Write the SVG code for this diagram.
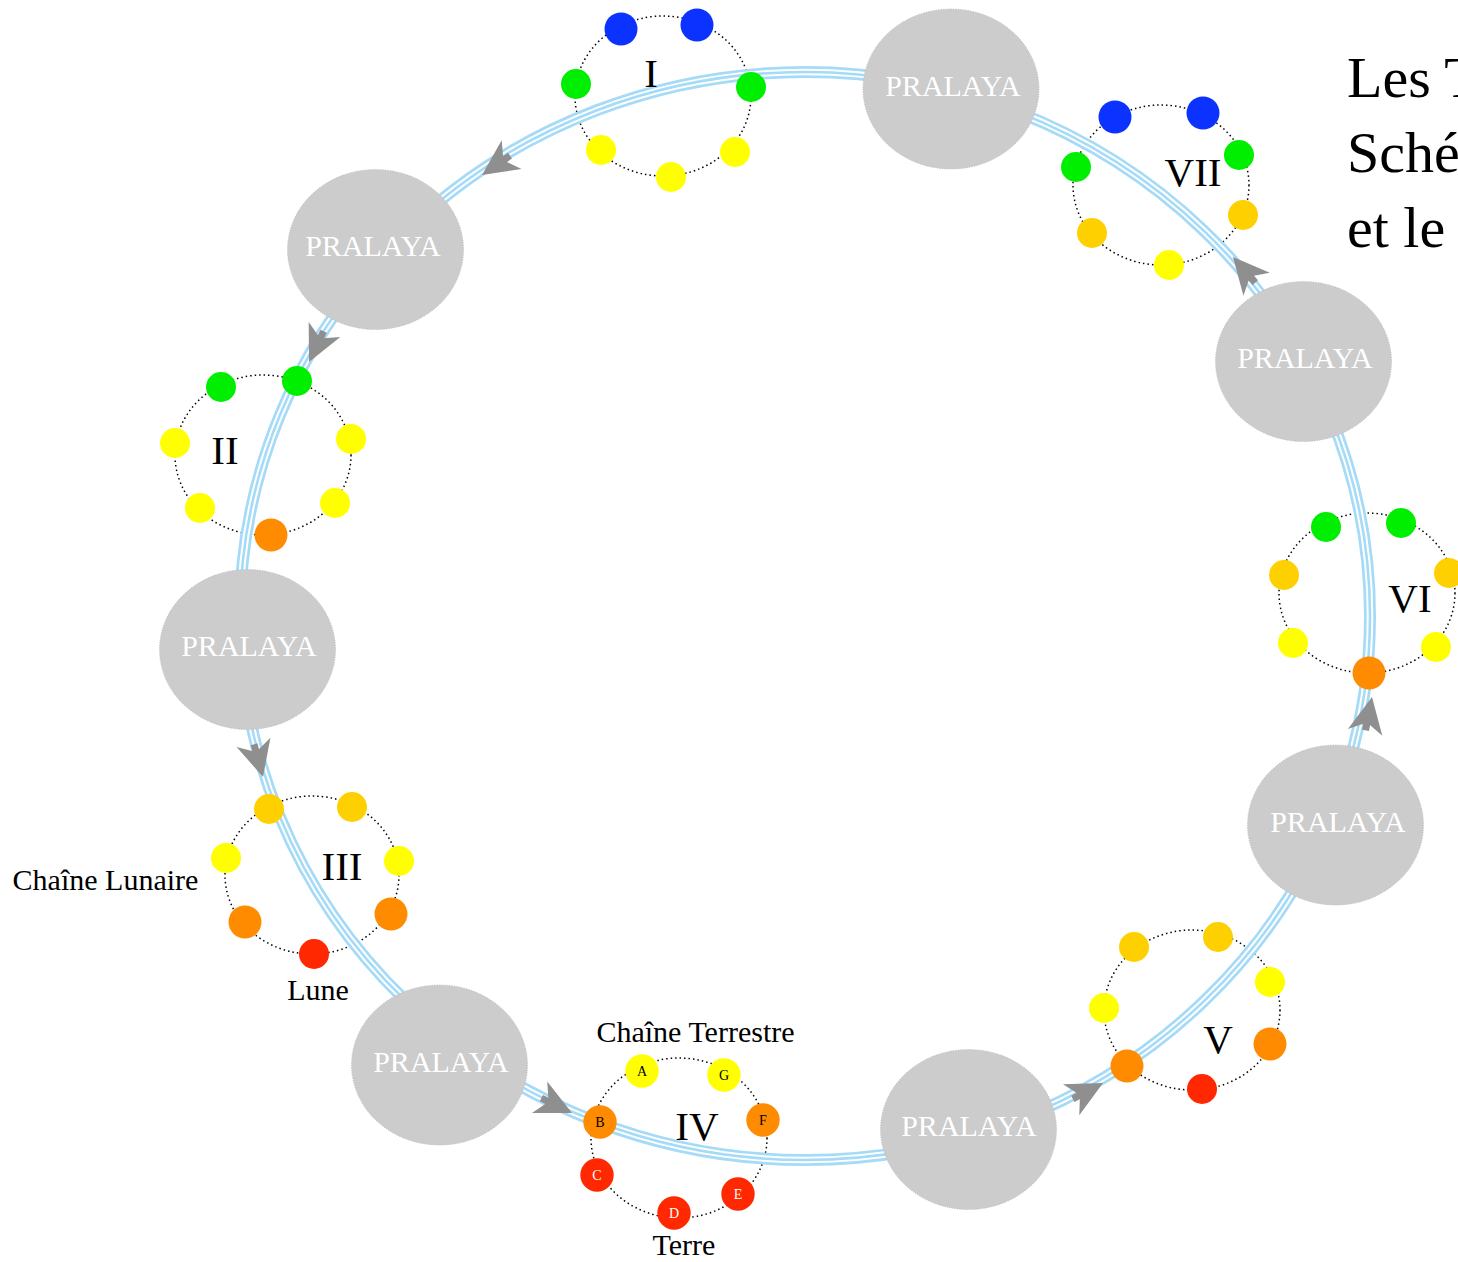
<svg xmlns="http://www.w3.org/2000/svg" width="1458" height="1262" viewBox="0 0 1458 1262">
<style>
.ring{fill:none;stroke:#000;stroke-width:1.5;stroke-dasharray:1.5 3}
.b1{fill:none;stroke:#a6dbf8;stroke-width:12}
.b2{fill:none;stroke:#fff;stroke-width:6.5}
.b3{fill:none;stroke:#a6dbf8;stroke-width:2.6}
.arr{fill:#8f8f8f}
.pn{fill:#cccccc;stroke:#bdbdbd;stroke-width:1;stroke-dasharray:1 1.5}
.pt{font-family:"Liberation Serif","Times New Roman",serif;font-size:30px;fill:#fff;text-anchor:middle}
.num{font-family:"Liberation Serif","Times New Roman",serif;font-size:41px;fill:#000;text-anchor:middle}
.lbl{font-family:"Liberation Serif","Times New Roman",serif;font-size:30px;fill:#000;text-anchor:middle}
.ttl{font-family:"Liberation Serif","Times New Roman",serif;font-size:58px;fill:#000}
.let{font-family:"Liberation Serif","Times New Roman",serif;font-size:14px;text-anchor:middle}
.bl{fill:#0b32ff}.gr{fill:#00ee00}.ye{fill:#ffff00}.go{fill:#ffd000}.or{fill:#ff8c00}.rd{fill:#ff2800}
</style>
<defs>
<g id="ah"><path d="M0,0 L-36,-17.5 L-26,0 L-36,17.5 Z"/><rect x="-34" y="-3.5" width="9" height="7"/></g>
</defs>

<g id="connectors">
  <g id="rings">
    <ellipse class="ring" cx="663" cy="96" rx="88" ry="80"/>
    <ellipse class="ring" cx="1161" cy="185" rx="88" ry="80"/>
    <ellipse class="ring" cx="263" cy="455" rx="88" ry="80"/>
    <ellipse class="ring" cx="312" cy="875" rx="87" ry="79"/>
    <ellipse class="ring" cx="679" cy="1138" rx="88" ry="80"/>
    <ellipse class="ring" cx="1192" cy="1010" rx="88" ry="80"/>
    <ellipse class="ring" cx="1367" cy="593" rx="88" ry="80"/>
  </g>
  <g id="loop">
    <ellipse class="b1" cx="805" cy="616" rx="565" ry="544"/>
    <ellipse class="b2" cx="805" cy="616" rx="565" ry="544"/>
    <ellipse class="b3" cx="805" cy="616" rx="565" ry="544"/>
  </g>
  <g id="arrows" class="arr">
    <use href="#ah" transform="translate(482,175) rotate(145.4)"/>
    <use href="#ah" transform="translate(309,362) rotate(115.5)"/>
    <use href="#ah" transform="translate(263,777) rotate(74.7)"/>
    <use href="#ah" transform="translate(572,1113) rotate(25.8)"/>
    <use href="#ah" transform="translate(1103,1083) rotate(-27.7)"/>
    <use href="#ah" transform="translate(1372,697) rotate(-79)"/>
    <use href="#ah" transform="translate(1233,257) rotate(-131)"/>
  </g>
</g>

<g id="ring-I">
  <circle class="bl" cx="621" cy="29" r="16.5"/><circle class="bl" cx="697" cy="25" r="16.5"/>
  <circle class="gr" cx="576" cy="84" r="15"/><circle class="gr" cx="751" cy="87" r="15"/>
  <circle class="ye" cx="601" cy="150" r="15"/><circle class="ye" cx="671" cy="177" r="15"/><circle class="ye" cx="735" cy="152" r="15"/>
  <text class="num" x="651" y="87">I</text>
</g>
<g id="ring-VII">
  <circle class="bl" cx="1115" cy="117" r="16.5"/><circle class="bl" cx="1203" cy="113" r="16.5"/>
  <circle class="gr" cx="1076" cy="167" r="15"/><circle class="gr" cx="1239" cy="155" r="15"/>
  <circle class="go" cx="1092" cy="233" r="15"/><circle class="go" cx="1243" cy="215" r="15"/>
  <circle class="ye" cx="1169" cy="265" r="15"/>
  <text class="num" x="1193" y="186">VII</text>
</g>
<g id="ring-II">
  <circle class="gr" cx="221" cy="387" r="15"/><circle class="gr" cx="297" cy="381" r="15"/>
  <circle class="ye" cx="175" cy="443" r="15"/><circle class="ye" cx="351" cy="439" r="15"/>
  <circle class="ye" cx="200" cy="508" r="15"/><circle class="ye" cx="335" cy="503" r="15"/>
  <circle class="or" cx="271" cy="535" r="16.5"/>
  <text class="num" x="225" y="464">II</text>
</g>
<g id="ring-III">
  <circle class="go" cx="269" cy="809" r="15"/><circle class="go" cx="352" cy="807" r="15"/>
  <circle class="ye" cx="226" cy="858" r="15"/><circle class="ye" cx="399" cy="861" r="15"/>
  <circle class="or" cx="245" cy="922" r="16.5"/><circle class="or" cx="391" cy="914" r="16.5"/>
  <circle class="rd" cx="314" cy="954" r="15"/>
  <text class="num" x="342" y="880">III</text>
  <text class="lbl" x="105.5" y="890">Chaîne Lunaire</text>
  <text class="lbl" x="318" y="1000">Lune</text>
</g>
<g id="ring-IV">
  <circle class="ye" cx="642" cy="1071" r="16.7"/><text class="let" x="642" y="1076" fill="#000">A</text>
  <circle class="ye" cx="724" cy="1075" r="16.7"/><text class="let" x="724" y="1080" fill="#000">G</text>
  <circle class="or" cx="600" cy="1122" r="16.7"/><text class="let" x="600" y="1127" fill="#000">B</text>
  <circle class="or" cx="763" cy="1120" r="16.7"/><text class="let" x="763" y="1125" fill="#000">F</text>
  <circle class="rd" cx="597" cy="1175" r="16.7"/><text class="let" x="597" y="1180" fill="#fff">C</text>
  <circle class="rd" cx="738" cy="1194" r="16.7"/><text class="let" x="738" y="1199" fill="#fff">E</text>
  <circle class="rd" cx="674" cy="1213" r="16.7"/><text class="let" x="674" y="1218" fill="#fff">D</text>
  <text class="num" x="697" y="1140">IV</text>
  <text class="lbl" x="695.5" y="1042">Chaîne Terrestre</text>
  <text class="lbl" x="684" y="1255">Terre</text>
</g>
<g id="ring-V">
  <circle class="go" cx="1134" cy="947" r="15"/><circle class="go" cx="1218" cy="937" r="15"/>
  <circle class="ye" cx="1104" cy="1008" r="15"/><circle class="ye" cx="1270" cy="982" r="15"/>
  <circle class="or" cx="1127" cy="1066" r="16.5"/><circle class="or" cx="1270" cy="1044" r="16.5"/>
  <circle class="rd" cx="1202" cy="1089" r="15"/>
  <text class="num" x="1218" y="1053">V</text>
</g>
<g id="ring-VI">
  <circle class="gr" cx="1326" cy="527" r="15"/><circle class="gr" cx="1401" cy="523" r="15"/>
  <circle class="go" cx="1284" cy="575" r="15"/><circle class="go" cx="1449" cy="573" r="15"/>
  <circle class="ye" cx="1293" cy="643" r="15"/><circle class="ye" cx="1436" cy="647" r="15"/>
  <circle class="or" cx="1369" cy="673" r="16.5"/>
  <text class="num" x="1410" y="612">VI</text>
</g>

<g id="pralaya-1"><ellipse class="pn" cx="951" cy="89" rx="88" ry="80"/><text class="pt" x="953" y="96">PRALAYA</text></g>
<g id="pralaya-2"><ellipse class="pn" cx="375.5" cy="249.5" rx="88" ry="80"/><text class="pt" x="373" y="256">PRALAYA</text></g>
<g id="pralaya-3"><ellipse class="pn" cx="247.5" cy="649.5" rx="88" ry="80"/><text class="pt" x="249" y="656">PRALAYA</text></g>
<g id="pralaya-4"><ellipse class="pn" cx="439.5" cy="1065" rx="88" ry="80"/><text class="pt" x="441" y="1072">PRALAYA</text></g>
<g id="pralaya-5"><ellipse class="pn" cx="968.5" cy="1129.5" rx="88" ry="80"/><text class="pt" x="969" y="1136">PRALAYA</text></g>
<g id="pralaya-6"><ellipse class="pn" cx="1335.5" cy="825" rx="88" ry="80"/><text class="pt" x="1338" y="832">PRALAYA</text></g>
<g id="pralaya-7"><ellipse class="pn" cx="1303.5" cy="361.5" rx="88" ry="80"/><text class="pt" x="1305" y="368">PRALAYA</text></g>

<g id="title">
  <text class="ttl" x="1347" y="97">Les T</text>
  <text class="ttl" x="1347" y="172">Sché</text>
  <text class="ttl" x="1347" y="247">et le</text>
</g>
</svg>
